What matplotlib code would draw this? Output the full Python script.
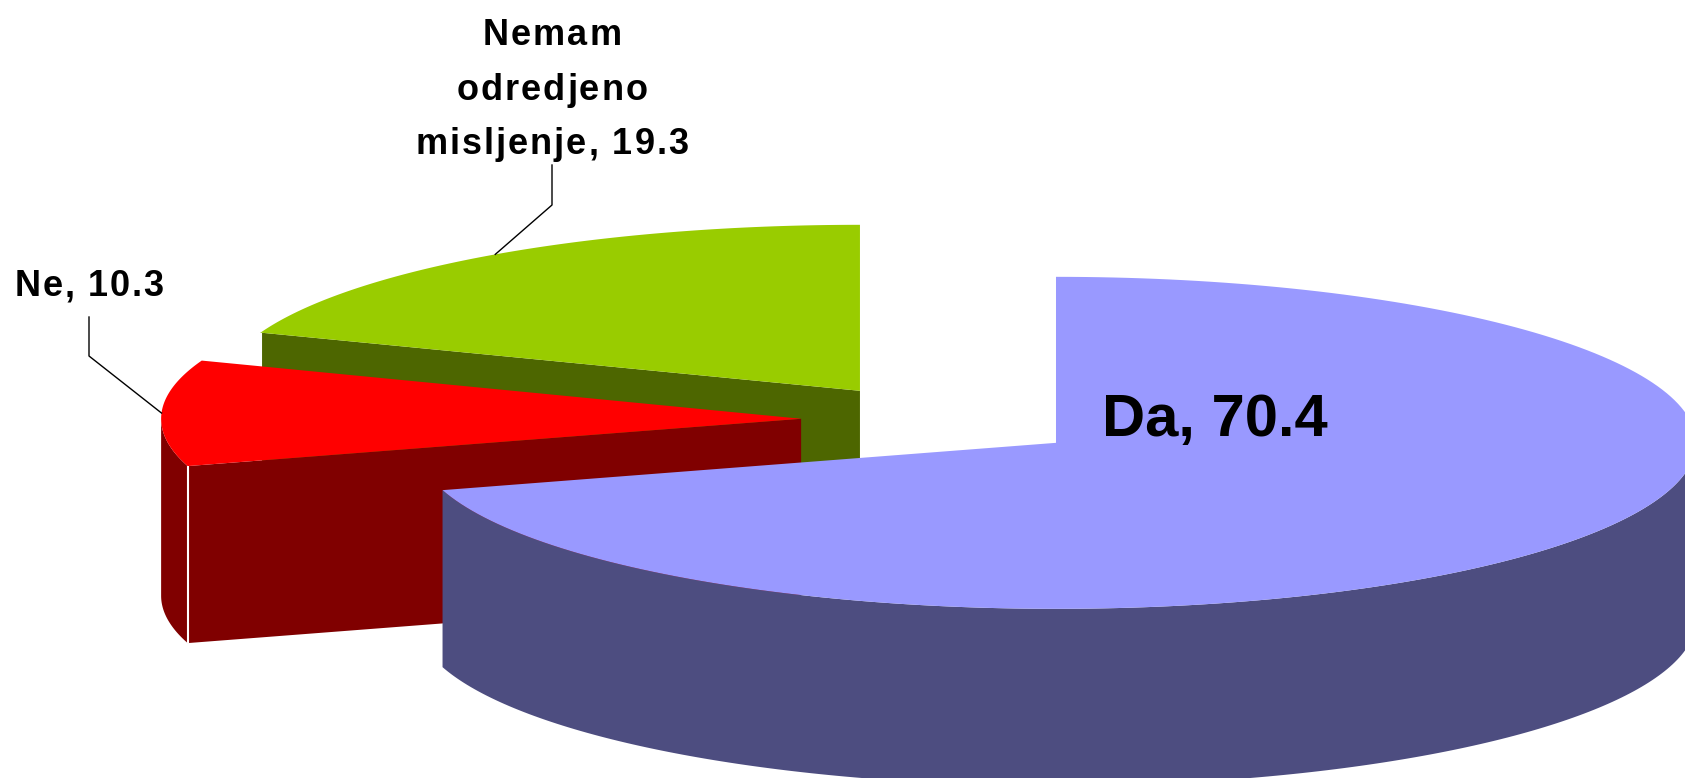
import numpy as np
import matplotlib.pyplot as plt
from matplotlib.patches import Polygon
from matplotlib.font_manager import FontProperties, findfont
from matplotlib.ft2font import FT2Font

LABELS = ['Da', 'Ne', 'Nemam\nodredjeno\nmisljenje']
VALUES = [70.4, 10.3, 19.3]
TOP = ['#9999FF', '#FF0000', '#99CC00']
SIDE = ['#4D4D80', '#800000', '#4D6600']
EXPLODE = [0.23, 0.214, 0.214]

# projected pie geometry, in pixels of the 1685x778 canvas
CX, CY = 938, 420
A, B, DEPTH = 640, 166, 177
DPI = 100
FP = FontProperties(family='Liberation Sans', weight='bold')


def ell(cx, cy, ang, dz=0.0):
    r = np.radians(ang)
    return cx + A * np.cos(r), cy - B * np.sin(r) + dz


def arc(cx, cy, a0, a1, dz=0.0, n=200):
    t = np.linspace(a0, a1, n)
    x, y = ell(cx, cy, t, dz)
    return np.column_stack([x, y])


def front_parts(a0, a1):
    # pieces of [a0, a1] lying on the front half of the ellipse (sin < 0)
    out = []
    for k in range(-2, 3):
        lo, hi = -180 + 360 * k, 0 + 360 * k
        s, e = max(a0, lo), min(a1, hi)
        if e > s:
            out.append((s, e))
    return out


def spaced_text(ax, x, y, s, size, track):
    # centred text line with extra letter spacing (Excel style), baseline at y
    font = FT2Font(findfont(FP))
    font.set_size(size, DPI)
    adv = []
    for c in s:
        g = font.load_char(ord(c))
        adv.append(g.linearHoriAdvance / 65536)
    total = sum(adv) + track * (len(s) - 1)
    px = x - total / 2
    for c, w in zip(s, adv):
        ax.text(px, y, c, fontproperties=FP, fontsize=size, ha='left', va='baseline', zorder=5)
        px += w + track


fig = plt.figure(figsize=(16.85, 7.78), dpi=DPI)
ax = fig.add_axes([0, 0, 1, 1])
ax.set_xlim(0, 1685)
ax.set_ylim(778, 0)
ax.axis('off')

# slice angles: start at 12 o'clock, go clockwise
fr = np.array(VALUES) / sum(VALUES)
ends = 90 - 360 * np.cumsum(fr)
starts = np.concatenate([[90], ends[:-1]])

slices = []
for i in range(len(VALUES)):
    a0, a1 = ends[i], starts[i]
    mid = (a0 + a1) / 2
    m = np.radians(mid)
    cx = CX + EXPLODE[i] * A * np.cos(m)
    cy = CY - EXPLODE[i] * B * np.sin(m)
    slices.append((i, a0, a1, mid, cx, cy))

# back to front
for i, a0, a1, mid, cx, cy in sorted(slices, key=lambda s: -np.sin(np.radians(s[3]))):
    # radial walls
    walls = []
    for ang, sgn in [(a0, -1), (a1, 1)]:
        r = np.radians(ang)
        ny = sgn * np.cos(r)  # y of outward normal in circle space
        if ny < -1e-6:
            px, py = ell(cx, cy, ang)
            poly = [(cx, cy), (px, py), (px, py + DEPTH), (cx, cy + DEPTH)]
            ax.add_patch(Polygon(poly, closed=True, fc=SIDE[i], ec='none', zorder=2))
            walls.append((px, py))
    # curved outer wall
    for s, e in front_parts(a0, a1):
        topa = arc(cx, cy, s, e)
        bota = arc(cx, cy, s, e, DEPTH)[::-1]
        ax.add_patch(Polygon(np.vstack([topa, bota]), closed=True, fc=SIDE[i], ec='none', zorder=2))
    for px, py in walls:
        ax.plot([px, px], [py, py + DEPTH], color='white', lw=1.5, zorder=2,
                solid_capstyle='butt')
    # top face
    top = np.vstack([[cx, cy], arc(cx, cy, a0, a1)])
    ax.add_patch(Polygon(top, closed=True, fc=TOP[i], ec='none', zorder=2))

# Da label inside the slice
ax.text(1215, 436, f'{LABELS[0]}, {VALUES[0]:.1f}', fontproperties=FP, fontsize=43,
        ha='center', va='baseline', zorder=5)

# Ne label with leader
_, a0, a1, mid, cx, cy = slices[1]
ex, ey = ell(cx, cy, mid)
spaced_text(ax, 89, 296, f'{LABELS[1]}, {VALUES[1]:.1f}', 26, 1.8)
ax.plot([89, 89, ex], [317, 356, ey], color='black', lw=1, zorder=4)

# Nemam odredjeno misljenje label with leader
_, a0, a1, mid, cx, cy = slices[2]
ex, ey = ell(cx, cy, mid)
lines = LABELS[2].split('\n')
lines[-1] = f'{lines[-1]}, {VALUES[2]:.1f}'
for line, base in zip(lines, [45, 100, 154]):
    spaced_text(ax, 552, base, line, 26, 2.0)
ax.plot([552, 552, ex], [165, 205, ey], color='black', lw=1, zorder=4)

fig.savefig('out.png', dpi=DPI)
plt.close(fig)
